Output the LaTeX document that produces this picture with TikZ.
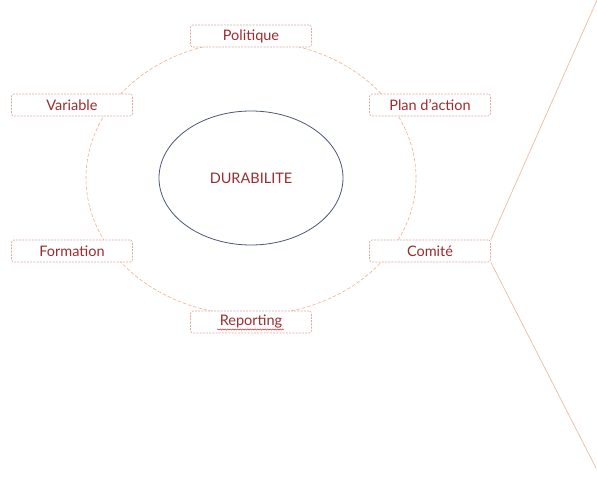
\documentclass[tikz,border=0pt]{standalone}
\usepackage{fontspec}
\setmainfont{Lato}
\usepackage{tikz}
\usetikzlibrary{shapes.geometric, positioning, decorations.pathmorphing}
\definecolor{texte}{HTML}{9C2B2E}
\definecolor{cadre}{HTML}{D8ABA5}
\definecolor{orbite}{HTML}{F2B08A}
\definecolor{trait}{HTML}{E9BDA3}
\definecolor{noyau}{HTML}{4A5873}
\tikzset{etape/.style={draw=cadre, fill=white, rounded corners=2.5pt,
    dash pattern=on 2pt off 1.2pt, line width=0.6pt,
    minimum width=121pt, minimum height=22pt, inner sep=0pt,
    text=texte, font=\fontsize{14.5}{16}\selectfont}}

\begin{document}
\begin{tikzpicture}[x=1pt, y=-1pt, on grid]
			\useasboundingbox (0,0) rectangle (597,495);
			\node (dura) [ellipse, draw=noyau, line width=0.8pt, minimum width=184pt, minimum height=134pt,
			text=texte, font=\fontsize{14.5}{16}\selectfont] at (251,178) {DURABILITE};
			\draw[orbite, line width=0.6pt, dash pattern=on 3.5pt off 2pt] (dura.center) ellipse [x radius=165pt, y radius=137pt];
			\node (pol) [etape, above = 142pt of dura] {Politique};
			\node (var) [etape, above left = 73pt and 179pt of dura] {Variable};
			\node (plan) [etape, above right = 73pt and 179pt of dura] {Plan d’action};
			\node (form) [etape, below left = 73pt and 179pt of dura] {Formation};
			\node (com) [etape, below right = 73pt and 179pt of dura] {Comité};
			\node (rep) [etape, below = 144pt of dura] {Reporting};
			% soulignement du correcteur
			\draw[red!80!black, line width=0.4pt, decorate, decoration={snake, amplitude=0.6pt, segment length=2.5pt}]
			([xshift=-34pt, yshift=-7.5pt]rep.center) -- ([xshift=33pt, yshift=-7.5pt]rep.center);
			\coordinate (haut) at (597,0);
			\coordinate (bas) at (596,468);
			\draw[trait, line width=0.7pt] (com.north east) -- (haut);
			\draw[trait, line width=0.7pt] (com.south east) -- (bas);
\end{tikzpicture}
\end{document}
